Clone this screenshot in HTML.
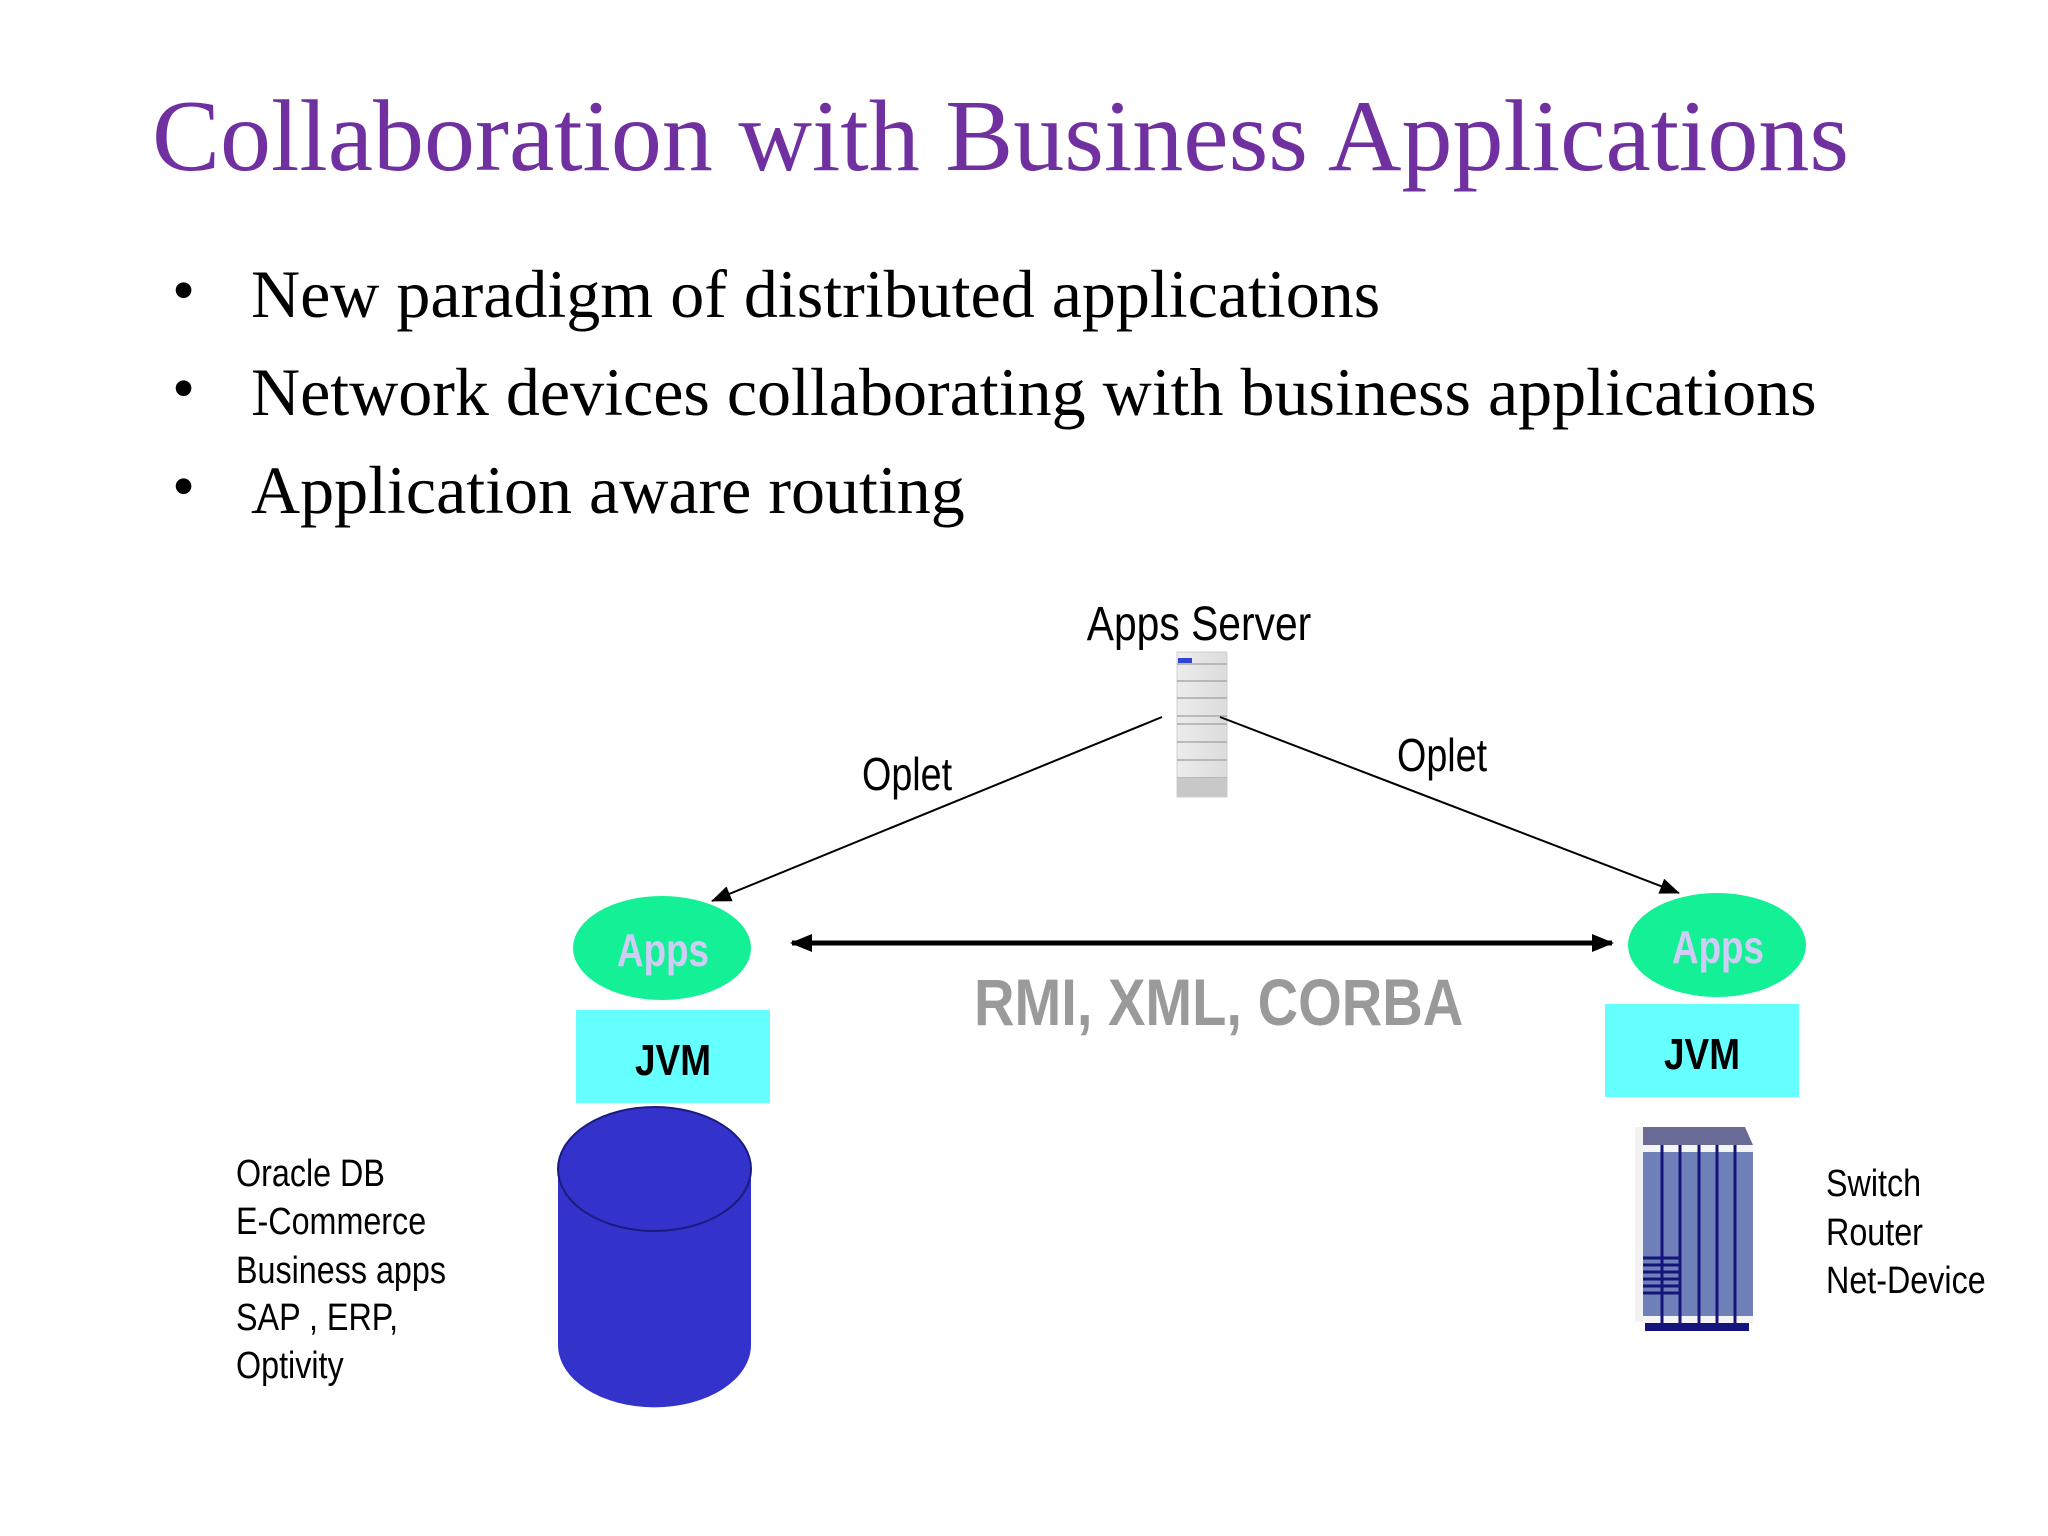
<!DOCTYPE html>
<html><head><meta charset="utf-8"><style>
html,body{margin:0;padding:0;background:#fff;}
svg{display:block}
</style></head><body>
<svg width="2048" height="1536" viewBox="0 0 2048 1536" xmlns="http://www.w3.org/2000/svg">
<defs>
<marker id="ah2" markerWidth="22" markerHeight="18" refX="20" refY="9" orient="auto-start-reverse" markerUnits="userSpaceOnUse"><path d="M0,0 L22,9 L0,18 z" fill="#000"/></marker>
<marker id="ah3" markerWidth="20" markerHeight="16" refX="19" refY="8" orient="auto" markerUnits="userSpaceOnUse"><path d="M0,0 L20,8 L0,16 z" fill="#000"/></marker>
<linearGradient id="srv" x1="0" x2="1"><stop offset="0" stop-color="#ececec"/><stop offset="1" stop-color="#dcdcdc"/></linearGradient>
</defs>
<rect width="2048" height="1536" fill="#fff"/>
<text x="152" y="170" font-family="Liberation Serif, serif" font-size="102" fill="#7030a0">Collaboration with Business Applications</text>
<g font-family="Liberation Serif, serif" font-size="68" fill="#000">
<text x="172" y="312" font-size="66">•</text>
<text x="251" y="317">New paradigm of distributed applications</text>
<text x="172" y="410" font-size="66">•</text>
<text x="251" y="415">Network devices collaborating with business applications</text>
<text x="172" y="508" font-size="66">•</text>
<text x="251" y="513">Application aware routing</text>
</g>
<g font-family="Liberation Sans, sans-serif">
<text transform="translate(1199,640) scale(0.85,1)" text-anchor="middle" font-size="48">Apps Server</text>
<text transform="translate(862,790) scale(0.82,1)" font-size="46">Oplet</text>
<text transform="translate(1397,771) scale(0.82,1)" font-size="46">Oplet</text>
</g>
<rect x="1177" y="652" width="50" height="145" fill="url(#srv)" stroke="#cfcfcf"/>
<rect x="1178" y="658" width="14" height="5" fill="#3344cc"/>
<g stroke="#aaa" stroke-width="1.5">
<line x1="1177" y1="664" x2="1227" y2="664"/><line x1="1177" y1="681" x2="1227" y2="681"/>
<line x1="1177" y1="698" x2="1227" y2="698"/><line x1="1177" y1="716" x2="1227" y2="716"/>
<line x1="1177" y1="724" x2="1227" y2="724"/><line x1="1177" y1="742" x2="1227" y2="742"/>
<line x1="1177" y1="760" x2="1227" y2="760"/><line x1="1177" y1="778" x2="1227" y2="778"/>
</g>
<rect x="1177" y="778" width="50" height="19" fill="#c8c8c8"/>
<line x1="1162" y1="717" x2="712" y2="901" stroke="#000" stroke-width="2" marker-end="url(#ah3)"/>
<line x1="1220" y1="717" x2="1679" y2="893" stroke="#000" stroke-width="2" marker-end="url(#ah3)"/>
<line x1="792" y1="943" x2="1612" y2="943" stroke="#000" stroke-width="5" marker-start="url(#ah2)" marker-end="url(#ah2)"/>
<text transform="translate(974,1025) scale(0.85,1)" font-family="Liberation Sans, sans-serif" font-weight="bold" font-size="66" fill="#9a9a9a">RMI, XML, CORBA</text>
<ellipse cx="662" cy="948" rx="89" ry="52" fill="#14f095"/>
<text transform="translate(663,966) scale(0.8,1)" text-anchor="middle" font-family="Liberation Sans, sans-serif" font-weight="bold" font-size="46" fill="#cfcdf5">Apps</text>
<rect x="576" y="1010" width="194" height="93" fill="#66ffff"/>
<text transform="translate(673,1075) scale(0.84,1)" text-anchor="middle" font-family="Liberation Sans, sans-serif" font-weight="bold" font-size="44">JVM</text>
<ellipse cx="1717" cy="945" rx="89" ry="52" fill="#14f095"/>
<text transform="translate(1718,963) scale(0.8,1)" text-anchor="middle" font-family="Liberation Sans, sans-serif" font-weight="bold" font-size="46" fill="#cfcdf5">Apps</text>
<rect x="1605" y="1004" width="194" height="93" fill="#66ffff"/>
<text transform="translate(1702,1069) scale(0.84,1)" text-anchor="middle" font-family="Liberation Sans, sans-serif" font-weight="bold" font-size="44">JVM</text>
<path d="M558,1169 L558,1345 A96,62 0 0 0 751,1345 L751,1169 Z" fill="#3333cc"/>
<ellipse cx="654.5" cy="1169" rx="96.5" ry="62" fill="#3333cc" stroke="#1a1a80" stroke-width="2"/>
<g font-family="Liberation Sans, sans-serif" font-size="38">
<text transform="translate(236,1186) scale(0.85,1)">Oracle DB</text>
<text transform="translate(236,1234) scale(0.85,1)">E-Commerce</text>
<text transform="translate(236,1283) scale(0.85,1)">Business apps</text>
<text transform="translate(236,1330) scale(0.85,1)">SAP , ERP,</text>
<text transform="translate(236,1378) scale(0.85,1)">Optivity</text>
<text transform="translate(1826,1196) scale(0.85,1)">Switch</text>
<text transform="translate(1826,1245) scale(0.85,1)">Router</text>
<text transform="translate(1826,1293) scale(0.85,1)">Net-Device</text>
</g>
<polygon points="1635,1127 1745,1127 1753,1145 1643,1145" fill="#6a6a96"/>
<rect x="1635" y="1127" width="8" height="195" fill="#f2f2f2"/>
<rect x="1643" y="1145" width="110" height="178" fill="#7080b8"/>
<rect x="1643" y="1145" width="110" height="7" fill="#f4f4f4"/>
<rect x="1643" y="1316" width="110" height="7" fill="#f4f4f4"/>
<g stroke="#14147a" stroke-width="3">
<line x1="1662" y1="1145" x2="1662" y2="1323"/><line x1="1680" y1="1145" x2="1680" y2="1323"/>
<line x1="1699" y1="1145" x2="1699" y2="1323"/><line x1="1717" y1="1145" x2="1717" y2="1323"/>
<line x1="1735" y1="1145" x2="1735" y2="1323"/>
<line x1="1643" y1="1258" x2="1680" y2="1258"/><line x1="1643" y1="1265" x2="1680" y2="1265"/>
<line x1="1643" y1="1272" x2="1680" y2="1272"/><line x1="1643" y1="1279" x2="1680" y2="1279"/>
<line x1="1643" y1="1286" x2="1680" y2="1286"/><line x1="1643" y1="1293" x2="1680" y2="1293"/>
</g>
<rect x="1645" y="1323" width="104" height="8" fill="#14147a"/>
</svg>
</body></html>
